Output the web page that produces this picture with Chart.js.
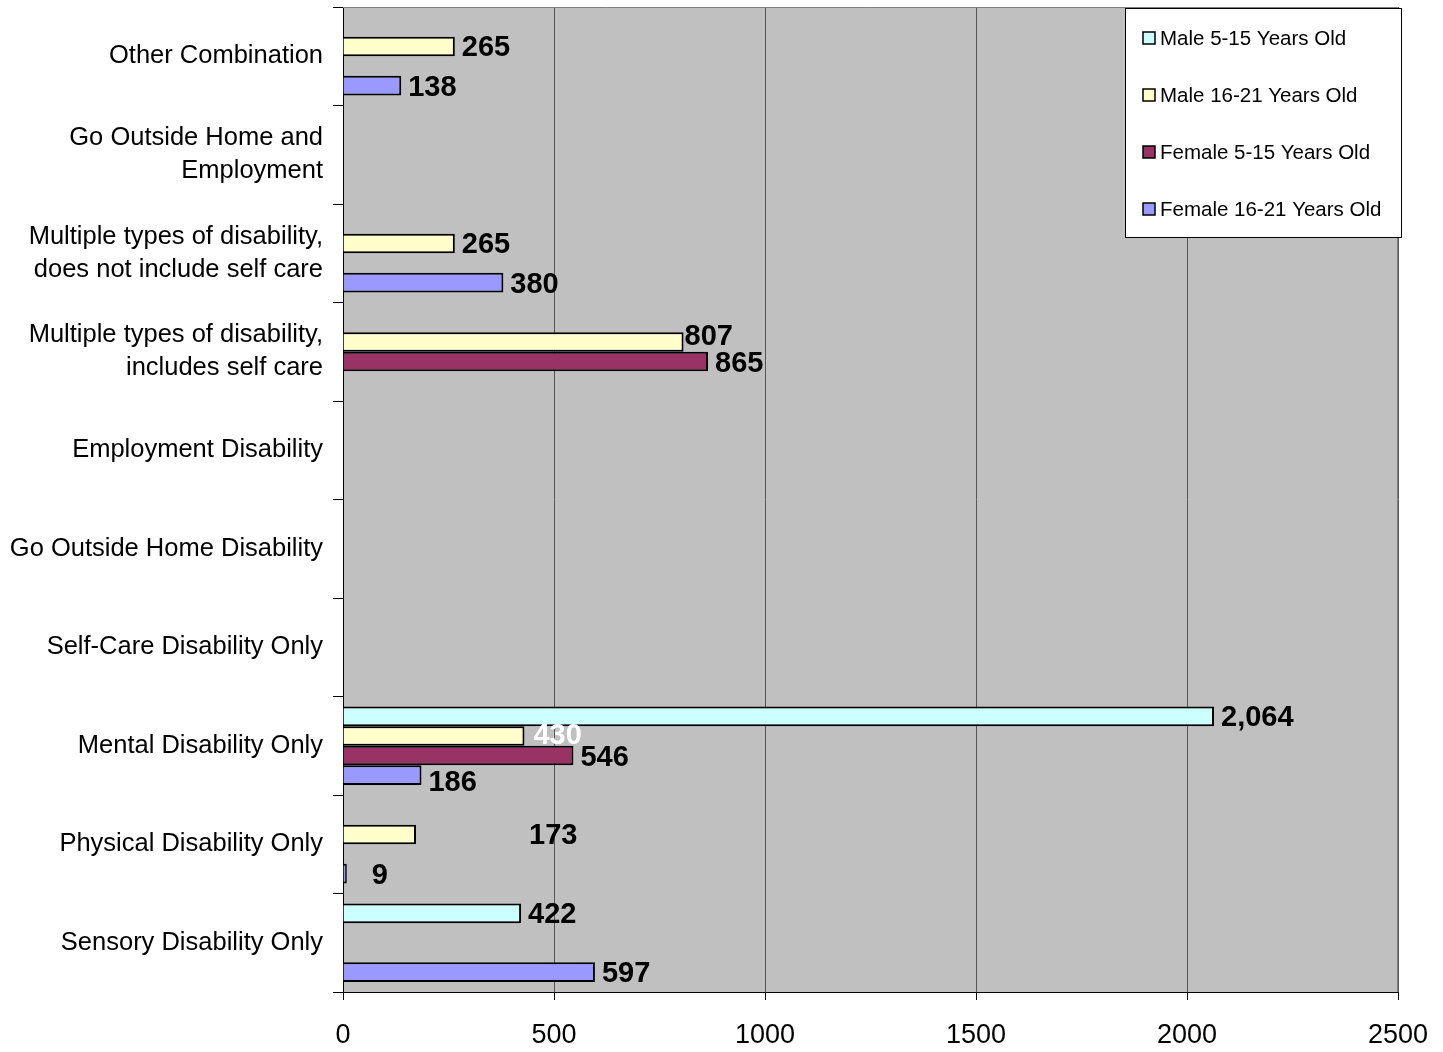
<!DOCTYPE html>
<html>
<head>
<meta charset="utf-8">
<script src="https://cdn.jsdelivr.net/npm/chart.js@4.4.1/dist/chart.umd.min.js"></script>
<style>
  html, body { margin: 0; padding: 0; background: #ffffff; }
  #wrap { width: 1443px; height: 1052px; position: relative; }
</style>
</head>
<body>
<div id="wrap"><canvas id="c" width="1443" height="1052"></canvas></div>
<script>
// ---- Data ----
const categories = [
  'Other Combination',
  ['Go Outside Home and', 'Employment'],
  ['Multiple types of disability,', 'does not include self care'],
  ['Multiple types of disability,', 'includes self care'],
  'Employment Disability',
  'Go Outside Home Disability',
  'Self-Care Disability Only',
  'Mental Disability Only',
  'Physical Disability Only',
  'Sensory Disability Only'
];
const seriesNames = ['Male 5-15 Years Old', 'Male 16-21 Years Old', 'Female 5-15 Years Old', 'Female 16-21 Years Old'];
const male5to15    = [null, null, null, null, null, null, null, 2064, null, 422];
const male16to21   = [265, null, 265, 807, null, null, null, 430, 173, null];
const female5to15  = [null, null, null, 865, null, null, null, 546, null, null];
const female16to21 = [138, null, 380, null, null, null, null, 186, 9, 597];
const xTicks = [0, 500, 1000, 1500, 2000, 2500];

// ---- Styles ----
const colors = ['#CCFFFF', '#FFFFCC', '#993366', '#9999FF'];
// label tweaks by "dataset,index"
const labelTweaks = {
  '1,7': { color: '#ffffff', dy: -2, dx: 2 },
  '1,8': { dx: 106 },
  '3,8': { dx: 18 },
  '1,3': { dx: -6, dy: -7 },
  '3,7': { dy: 6 }
};

const FONT = '"Liberation Sans", Arial, sans-serif';

const plotBg = {
  id: 'plotBg',
  beforeDraw(chart) {
    const { ctx, chartArea: a } = chart;
    ctx.save();
    ctx.fillStyle = '#C0C0C0';
    ctx.fillRect(a.left, a.top, a.right - a.left, a.bottom - a.top);
    ctx.restore();
  },
  afterDatasetsDraw(chart) {
    const { ctx, chartArea: a } = chart;
    ctx.save();
    ctx.strokeStyle = '#808080';
    ctx.lineWidth = 1;
    ctx.beginPath();
    ctx.moveTo(a.left, a.top + 0.5);
    ctx.lineTo(a.right - 0.5, a.top + 0.5);
    ctx.lineTo(a.right - 0.5, a.bottom);
    ctx.stroke();
    ctx.restore();
  }
};

const valueLabels = {
  id: 'valueLabels',
  afterDatasetsDraw(chart) {
    const ctx = chart.ctx;
    ctx.save();
    ctx.font = 'bold 29px ' + FONT;
    ctx.textBaseline = 'middle';
    ctx.textAlign = 'left';
    chart.data.datasets.forEach((ds, di) => {
      const meta = chart.getDatasetMeta(di);
      meta.data.forEach((bar, i) => {
        const v = ds.data[i];
        if (v === null || v === undefined) return;
        const t = labelTweaks[di + ',' + i] || {};
        ctx.fillStyle = t.color || '#000000';
        ctx.fillText(v.toLocaleString('en-US'), bar.x + 7 + (t.dx || 0), bar.y + 2 + (t.dy || 0));
      });
    });
    ctx.restore();
  }
};

const boxLegend = {
  id: 'boxLegend',
  afterDraw(chart) {
    const ctx = chart.ctx;
    const x0 = 1125, y0 = 8, w = 277, h = 230;
    ctx.save();
    ctx.fillStyle = '#ffffff';
    ctx.fillRect(x0, y0, w, h);
    ctx.strokeStyle = '#000000';
    ctx.lineWidth = 1;
    ctx.strokeRect(x0 + 0.5, y0 + 0.5, w - 1, h - 1);
    ctx.font = '20.5px ' + FONT;
    ctx.textBaseline = 'middle';
    ctx.textAlign = 'left';
    chart.data.datasets.forEach((ds, i) => {
      const cy = 38 + i * 57;
      ctx.fillStyle = ds.backgroundColor;
      ctx.fillRect(1143, cy - 6, 12, 12);
      ctx.strokeStyle = '#000000';
      ctx.lineWidth = 1.5;
      ctx.strokeRect(1143, cy - 6, 12, 12);
      ctx.fillStyle = '#000000';
      ctx.fillText(ds.label, 1160, cy + 1);
    });
    ctx.restore();
  }
};

const datasets = [male5to15, male16to21, female5to15, female16to21].map((d, i) => ({
  label: seriesNames[i],
  data: d,
  backgroundColor: colors[i],
  borderColor: '#000000',
  borderWidth: 2,
  borderSkipped: 'left',
  categoryPercentage: 0.795,
  barPercentage: 1.0
}));

new Chart(document.getElementById('c'), {
  type: 'bar',
  data: { labels: categories, datasets },
  plugins: [plotBg, valueLabels, boxLegend],
  options: {
    indexAxis: 'y',
    responsive: false,
    animation: false,
    devicePixelRatio: 1,
    layout: { padding: { top: 7, right: 45, left: 0, bottom: 0 } },
    plugins: { legend: { display: false }, tooltip: { enabled: false } },
    scales: {
      x: {
        min: 0, max: 2500,
        afterBuildTicks(scale) { scale.ticks = xTicks.map(v => ({ value: v })); },
        afterFit(scale) { scale.height = 60; scale.paddingLeft = 0; scale.paddingRight = 0; },
        ticks: { color: '#000000', font: { family: FONT, size: 27 }, padding: 19, maxRotation: 0,
                 callback: (v) => String(v) },
        grid: { color: '#555555', lineWidth: 1, tickLength: 8, drawTicks: true, tickColor: '#000000' },
        border: { color: '#000000', width: 1 }
      },
      y: {
        afterFit(scale) { scale.width = 343; scale.paddingTop = 0; scale.paddingBottom = 0; },
        ticks: { color: '#000000', font: { family: FONT, size: 25.5, lineHeight: 1.3 }, padding: 10, autoSkip: false },
        grid: { offset: true, drawOnChartArea: false, drawTicks: true, tickLength: 10, color: '#000000' },
        border: { color: '#000000', width: 1 }
      }
    }
  }
});
</script>
</body>
</html>
